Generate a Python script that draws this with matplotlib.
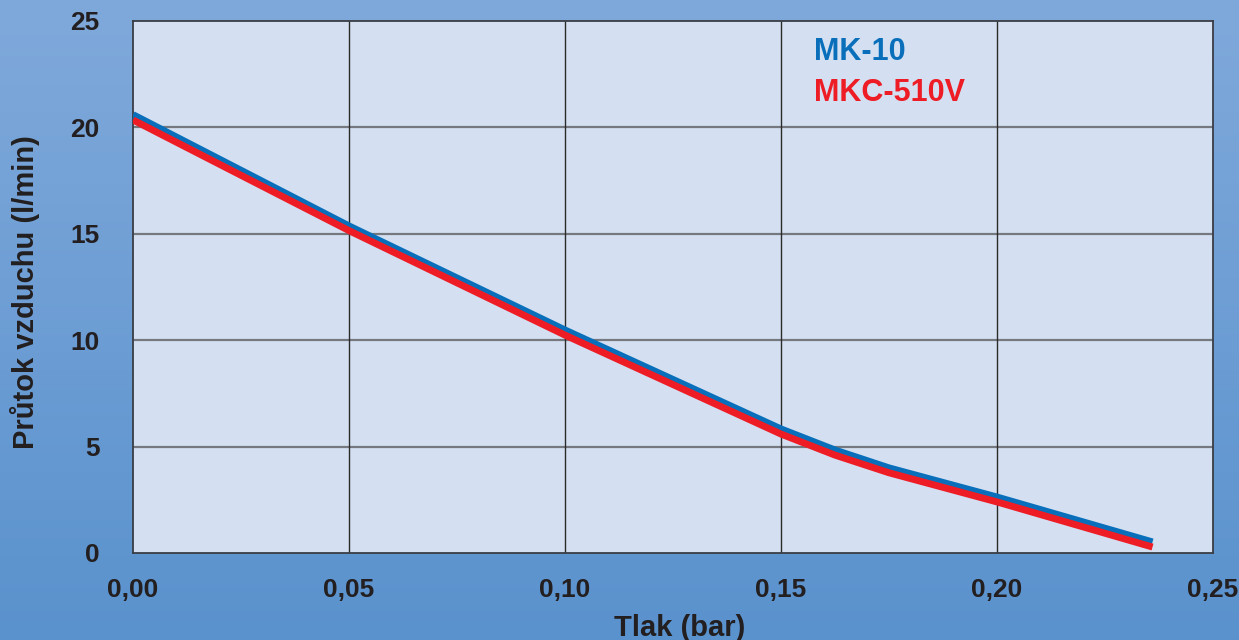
import numpy as np
import matplotlib
matplotlib.use("Agg")
import matplotlib.pyplot as plt

pressure = [0.0, 0.05, 0.10, 0.15, 0.1625, 0.175, 0.20, 0.236]
mk10 = [20.6, 15.37, 10.48, 5.83, 4.84, 4.0, 2.63, 0.52]
mkc510v = [20.35, 15.15, 10.24, 5.59, 4.60, 3.77, 2.40, 0.28]
series_names = ["MK-10", "MKC-510V"]
xticks = [0.0, 0.05, 0.10, 0.15, 0.20, 0.25]
xticklabels = ["0,00", "0,05", "0,10", "0,15", "0,20", "0,25"]
yticks = [0, 5, 10, 15, 20, 25]

plt.rcParams['font.family'] = ['Liberation Sans', 'DejaVu Sans']
W, H = 1239, 640
fig = plt.figure(figsize=(W / 100, H / 100), dpi=100)

# gradient background
bg = fig.add_axes([0, 0, 1, 1], zorder=-10)
grad = np.linspace(0, 1, 256).reshape(-1, 1)
top = np.array([0x80, 0xa9, 0xdb]) / 255
bot = np.array([0x5a, 0x92, 0xcd]) / 255
img = top[None, None, :] * (1 - grad[:, :, None]) + bot[None, None, :] * grad[:, :, None]
bg.imshow(img, aspect='auto', extent=[0, 1, 0, 1])
bg.axis('off')

ax = fig.add_axes([133 / W, 1 - 553 / H, (1213 - 133) / W, (553 - 21) / H])
ax.set_facecolor('#d4e0f1')
ax.set_xlim(0, 0.25)
ax.set_ylim(0, 25)

for y in yticks[1:-1]:
    ax.axhline(y, color='#75787e', lw=1.6, zorder=1)
for x in xticks[1:-1]:
    ax.axvline(x, color='#2a2a2a', lw=1.0, zorder=1)

ax.plot(pressure, mk10, color='#0a6fbb', lw=5.0, solid_capstyle='butt', zorder=3)
ax.plot(pressure, mkc510v, color='#ee1c25', lw=5.0, solid_capstyle='butt', zorder=3)

ax.text(0.631, (553 - 52) / 532, series_names[0], transform=ax.transAxes, color='#0a6fbb',
        fontsize=22, fontweight='bold', va='center', ha='left')
ax.text(0.631, (553 - 93) / 532, series_names[1], transform=ax.transAxes, color='#ee1c25',
        fontsize=22, fontweight='bold', va='center', ha='left')

ax.set_xticks(xticks)
ax.set_xticklabels(xticklabels)
ax.set_yticks(yticks)
ax.tick_params(axis='both', length=0, labelsize=19, labelcolor='#231f20')
ax.tick_params(axis='y', pad=24)
ax.tick_params(axis='x', pad=18)
for lab in ax.get_xticklabels() + ax.get_yticklabels():
    lab.set_fontweight('bold')

for s in ax.spines.values():
    s.set_color('#3a3d44')
    s.set_linewidth(1.3)

fig.text(680 / W, 1 - 636 / H, 'Tlak (bar)', fontsize=21, fontweight='bold',
         color='#231f20', ha='center', va='baseline')
fig.text(25 / W, 1 - 292 / H, 'Průtok vzduchu (l/min)', fontsize=21, fontweight='bold',
         color='#231f20', ha='center', va='center', rotation=90)

fig.savefig('out.png', dpi=100)
